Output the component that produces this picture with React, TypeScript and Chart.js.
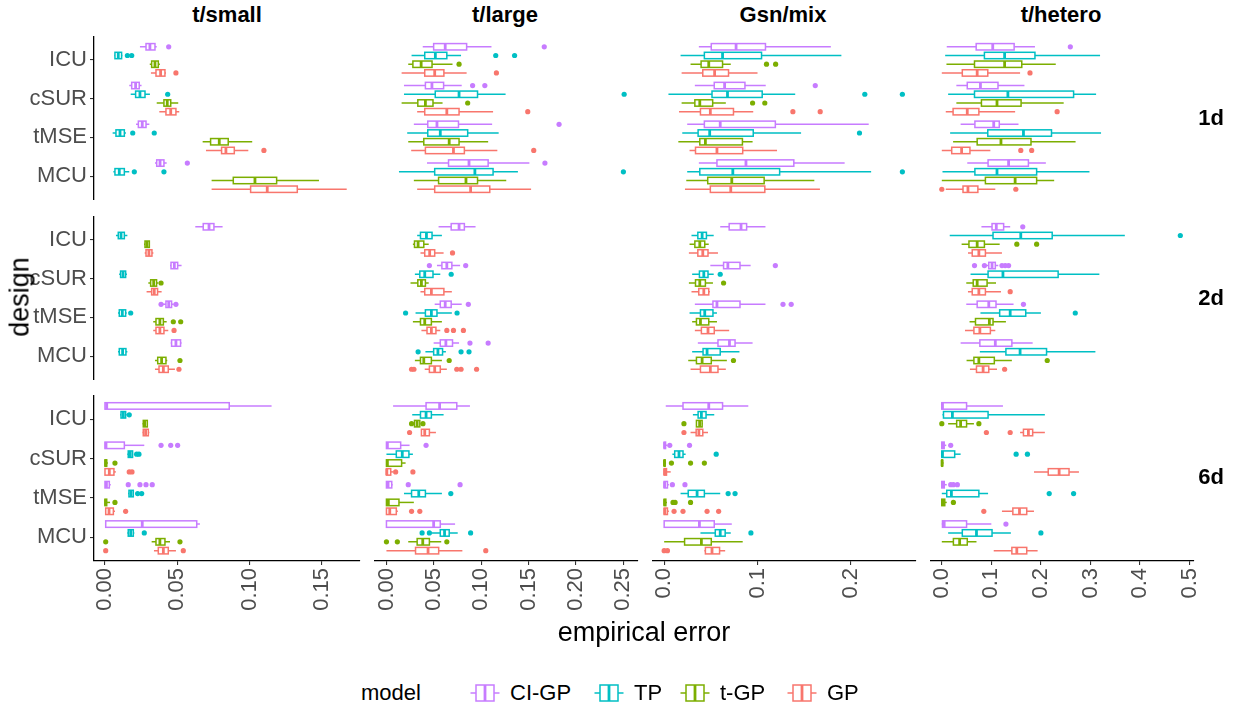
import React, { useEffect, useRef } from "react";
import { Chart, registerables } from "chart.js";

Chart.register(...registerables);

const FONT = "'Liberation Sans', Arial, Helvetica, sans-serif";

// ---- labels ----
const designs = ["ICU", "cSUR", "tMSE", "MCU"];
const models = ["CI-GP", "TP", "t-GP", "GP"];
const modelColors = ["#C77CFF", "#00BFC4", "#7CAE00", "#F8766D"];
const problems = ["t/small", "t/large", "Gsn/mix", "t/hetero"];
const dims = ["1d", "2d", "6d"];

// ---- x axes per column ----
const xLimits = [
  [-0.0076, 0.1765],
  [-0.0125, 0.2654],
  [-0.0124, 0.27],
  [-0.0226, 0.509],
];
const xTickValues = [
  [0, 0.05, 0.1, 0.15],
  [0, 0.05, 0.1, 0.15, 0.2, 0.25],
  [0, 0.1, 0.2],
  [0, 0.1, 0.2, 0.3, 0.4, 0.5],
];
const xTickLabels = [
  ["0.00", "0.05", "0.10", "0.15"],
  ["0.00", "0.05", "0.10", "0.15", "0.20", "0.25"],
  ["0.0", "0.1", "0.2"],
  ["0.0", "0.1", "0.2", "0.3", "0.4", "0.5"],
];

// ---- data: per facet, per design [CI-GP, TP, t-GP, GP]
// each box: [lowerWhisker, q1, median, q3, upperWhisker, ...outliers]
const tSmall1d = [
  [[0.0242, 0.0284, 0.0311, 0.0346, 0.0358, 0.0441], [0.0065, 0.0069, 0.0092, 0.0115, 0.012, 0.0155, 0.0185], [0.031, 0.0323, 0.0346, 0.0369, 0.038], [0.0318, 0.0353, 0.0385, 0.0415, 0.0422, 0.0491]],
  [[0.0168, 0.0185, 0.0212, 0.0237, 0.0253], [0.0178, 0.0212, 0.0242, 0.0277, 0.0311, 0.0434], [0.0358, 0.0408, 0.0431, 0.0455, 0.0507], [0.0376, 0.0422, 0.0455, 0.0491, 0.0514]],
  [[0.0215, 0.0231, 0.0258, 0.0284, 0.0307], [0.0053, 0.0076, 0.0104, 0.0134, 0.0145, 0.0192, 0.0341], [0.0676, 0.0731, 0.0791, 0.0853, 0.1019], [0.0699, 0.0807, 0.0837, 0.0895, 0.0992, 0.11]],
  [[0.0346, 0.0358, 0.0381, 0.0408, 0.0427, 0.057], [0.0058, 0.0069, 0.0099, 0.0134, 0.0168, 0.0203, 0.0408], [0.0738, 0.0888, 0.1038, 0.1188, 0.1481], [0.0738, 0.1008, 0.1123, 0.1331, 0.1673]],
];
const tLarge1d = [
  [[0.0383, 0.0498, 0.062, 0.0846, 0.1108, 0.1665], [0.0265, 0.0404, 0.0516, 0.0637, 0.0787, 0.1153, 0.1352], [0.023, 0.0279, 0.0366, 0.0481, 0.0697, 0.0766], [0.016, 0.0404, 0.0509, 0.0606, 0.0846, 0.116]],
  [[0.0185, 0.0411, 0.048, 0.0603, 0.0794, 0.0909, 0.1038], [0.0185, 0.0515, 0.0766, 0.0961, 0.1257, 0.2508], [0.016, 0.0331, 0.0411, 0.0491, 0.0592, 0.0857], [0.0324, 0.0404, 0.0637, 0.0766, 0.1125, 0.1491]],
  [[0.0289, 0.0436, 0.0533, 0.076, 0.1115, 0.1821], [0.0219, 0.0436, 0.0568, 0.0857, 0.1184], [0.023, 0.0394, 0.0662, 0.0766, 0.1073], [0.0261, 0.0411, 0.0707, 0.0822, 0.117, 0.1554]],
  [[0.0428, 0.0655, 0.0871, 0.1073, 0.1508, 0.1672], [0.0132, 0.0509, 0.0933, 0.1125, 0.1387, 0.25], [0.0289, 0.055, 0.0839, 0.0961, 0.1264], [0.0324, 0.0509, 0.0888, 0.109, 0.1526]],
];
const gsnMix1d = [
  [[0.0372, 0.0505, 0.0771, 0.1086, 0.1787], [0.0176, 0.0431, 0.0626, 0.1044, 0.19], [0.0283, 0.0396, 0.0478, 0.0626, 0.0714, 0.1097, 0.1195], [0.0187, 0.0414, 0.0541, 0.069, 0.1001]],
  [[0.0329, 0.0537, 0.0648, 0.0866, 0.1089, 0.162], [0.0046, 0.0513, 0.0679, 0.1051, 0.1405, 0.2151, 0.2554], [0.0187, 0.0329, 0.0382, 0.052, 0.0661, 0.0948, 0.1079], [0.0159, 0.0389, 0.0495, 0.0743, 0.0955, 0.138, 0.1673]],
  [[0.0247, 0.0431, 0.0601, 0.1192, 0.2193], [0.0194, 0.0364, 0.0488, 0.0955, 0.1468, 0.2094], [0.0152, 0.0382, 0.0442, 0.0839, 0.0948], [0.0272, 0.0336, 0.0566, 0.0842, 0.121]],
  [[0.0372, 0.0566, 0.0877, 0.139, 0.1935], [0.0247, 0.0382, 0.0736, 0.1238, 0.2219, 0.2554], [0.0237, 0.0467, 0.0725, 0.1072, 0.161], [0.0223, 0.0495, 0.0714, 0.1079, 0.167]],
];
const tHetero1d = [
  [[0.01, 0.0694, 0.1028, 0.146, 0.188, 0.2594], [0.0068, 0.086, 0.1268, 0.188, 0.3194], [0.0094, 0.066, 0.1268, 0.1614, 0.23], [0, 0.0414, 0.0714, 0.0928, 0.158, 0.178]],
  [[0.0294, 0.0514, 0.078, 0.1134, 0.1668], [0.0128, 0.066, 0.1334, 0.266, 0.3114], [0.0294, 0.08, 0.1114, 0.16, 0.246], [0.008, 0.0228, 0.0514, 0.0748, 0.148, 0.2328]],
  [[0.038, 0.0668, 0.1048, 0.116, 0.1548], [0.0168, 0.0928, 0.1648, 0.2214, 0.3214], [0.0228, 0.0714, 0.1194, 0.18, 0.27], [0, 0.02, 0.04, 0.0568, 0.098, 0.1594, 0.1814]],
  [[0.0514, 0.0934, 0.1348, 0.1748, 0.21], [0.0014, 0.0668, 0.1114, 0.1914, 0.298], [0, 0.088, 0.148, 0.1914, 0.2268], [0.008, 0.0428, 0.0528, 0.0728, 0.108, 0, 0.1494]],
];
const tSmall2d = [
  [[0.0625, 0.068, 0.072, 0.0754, 0.0814], [0.0076, 0.0092, 0.0111, 0.0134, 0.0155], [0.027, 0.0277, 0.0291, 0.0307, 0.031], [0.0275, 0.0284, 0.0304, 0.0325, 0.0335]],
  [[0.045, 0.0457, 0.048, 0.0503, 0.053], [0.0098, 0.0108, 0.0125, 0.0143, 0.0152], [0.03, 0.0316, 0.0337, 0.0357, 0.0369, 0.0388], [0.0288, 0.0323, 0.0341, 0.0364, 0.0392]],
  [[0.04, 0.0422, 0.0441, 0.0461, 0.0475, 0.0388, 0.0491], [0.009, 0.0099, 0.012, 0.0143, 0.015, 0.0178], [0.0334, 0.0353, 0.038, 0.0404, 0.0427, 0.0473, 0.0524], [0.0334, 0.0353, 0.038, 0.0408, 0.0438, 0.0478]],
  [[0.0455, 0.0461, 0.0491, 0.0523, 0.053], [0.009, 0.0099, 0.0122, 0.0145, 0.0155], [0.0346, 0.0365, 0.0392, 0.0422, 0.0431, 0.0519], [0.0346, 0.0374, 0.0404, 0.0438, 0.0484, 0.0512]],
];
const tLarge2d = [
  [[0.055, 0.0683, 0.0766, 0.0822, 0.094], [0.0324, 0.0359, 0.0422, 0.0481, 0.0585], [0.0279, 0.0296, 0.0334, 0.0394, 0.0446], [0.0359, 0.0404, 0.0456, 0.0509, 0.0603, 0.0697]],
  [[0.0533, 0.0585, 0.0637, 0.069, 0.0777, 0.0453, 0.0836], [0.03, 0.0352, 0.0404, 0.0491, 0.0568, 0.0683], [0.0254, 0.0331, 0.0369, 0.0411, 0.0446], [0.0359, 0.0404, 0.0474, 0.0606, 0.069]],
  [[0.0509, 0.0568, 0.062, 0.0683, 0.0794, 0.0864], [0.0307, 0.0411, 0.0474, 0.0533, 0.069, 0.0202, 0.0745], [0.0279, 0.0359, 0.0404, 0.0474, 0.0585], [0.0369, 0.0428, 0.0474, 0.0522, 0.0568, 0.0637, 0.0707, 0.0812]],
  [[0.0498, 0.0568, 0.0627, 0.0697, 0.0766, 0.0881, 0.1073], [0.0411, 0.0498, 0.0543, 0.0592, 0.0627, 0.0334, 0.0787, 0.0871], [0.03, 0.0359, 0.0394, 0.0474, 0.0585, 0.0662], [0.0404, 0.0453, 0.0509, 0.0568, 0.0637, 0.0265, 0.029, 0.0742, 0.0787, 0.0951]],
];
const gsnMix2d = [
  [[0.0601, 0.0697, 0.0824, 0.0884, 0.1086], [0.0293, 0.0361, 0.0407, 0.0453, 0.0531], [0.0272, 0.0329, 0.0382, 0.0435, 0.0478], [0.0265, 0.0361, 0.0414, 0.047, 0.0577]],
  [[0.0495, 0.0637, 0.0683, 0.0813, 0.0927, 0.1192], [0.03, 0.0378, 0.0425, 0.047, 0.0531, 0.0601], [0.0265, 0.0336, 0.0382, 0.0442, 0.0523, 0.0637], [0.0293, 0.0371, 0.0425, 0.0478, 0.049]],
  [[0.0329, 0.0523, 0.0566, 0.0813, 0.1086, 0.1274, 0.1362], [0.0272, 0.0389, 0.0435, 0.0523, 0.0566], [0.03, 0.0346, 0.0389, 0.0478, 0.0566], [0.0329, 0.0399, 0.047, 0.0537, 0.0697]],
  [[0.0361, 0.0577, 0.07, 0.076, 0.0948], [0.03, 0.0417, 0.046, 0.0601, 0.0807], [0.0258, 0.0346, 0.0407, 0.0505, 0.0672, 0.0743], [0.0283, 0.0389, 0.0495, 0.0577, 0.0661]],
];
const tHetero2d = [
  [[0.08, 0.1014, 0.11, 0.1248, 0.138, 0.1634], [0.016, 0.1034, 0.1594, 0.2228, 0.3694, 0.4814], [0.04, 0.0548, 0.0714, 0.086, 0.1168, 0.1514, 0.1914], [0.0528, 0.0614, 0.0748, 0.088, 0.1214]],
  [[0.088, 0.0948, 0.1014, 0.108, 0.114, 0.066, 0.086, 0.1214, 0.128, 0.1348], [0.058, 0.0934, 0.1234, 0.2348, 0.318], [0.0494, 0.0634, 0.0714, 0.0914, 0.1094], [0.0528, 0.0614, 0.0748, 0.088, 0.1194, 0.138]],
  [[0.0494, 0.0714, 0.0948, 0.1094, 0.1448, 0.1648], [0.078, 0.1168, 0.138, 0.1694, 0.2, 0.2694], [0.056, 0.068, 0.096, 0.1034, 0.1294], [0.0468, 0.0648, 0.0768, 0.098, 0.108]],
  [[0.038, 0.0768, 0.108, 0.1414, 0.1834], [0.0768, 0.1294, 0.158, 0.2114, 0.31], [0.05, 0.0648, 0.0748, 0.106, 0.1414, 0.2128], [0.0568, 0.07, 0.0834, 0.0948, 0.1114, 0.1268]],
];
const tSmall6d = [
  [[0, 0, 0.0012, 0.086, 0.1153], [0.0105, 0.0111, 0.0127, 0.0143, 0.015, 0.0168], [0.026, 0.0265, 0.0275, 0.0293, 0.0295], [0.026, 0.0265, 0.0281, 0.03, 0.0307]],
  [[0, 0, 0.0007, 0.0134, 0.0272, 0.0388, 0.0455, 0.0503], [0.0155, 0.0161, 0.0175, 0.0191, 0.0195, 0.0219, 0.0235], [0, 0, 0.0005, 0.0012, 0.002, 0.0069], [0, 0, 0.003, 0.0062, 0.0075, 0.0168, 0.0187]],
  [[0, 0, 0.001, 0.003, 0.004, 0.0161, 0.0242, 0.0284, 0.0327], [0.016, 0.0166, 0.018, 0.0196, 0.02, 0.0226, 0.0254], [0, 0, 0.0004, 0.0012, 0.0035, 0.0069], [0, 0.0005, 0.0028, 0.0058, 0.0069, 0.0143]],
  [[0, 0.0005, 0.0258, 0.0635, 0.0657], [0.0155, 0.0161, 0.0178, 0.0196, 0.0203, 0.0272], [0.0323, 0.0353, 0.038, 0.0415, 0.045, 0.0005, 0.0519], [0.0339, 0.0369, 0.0404, 0.0438, 0.0491, 0.0005, 0.0542]],
];
const tLarge6d = [
  [[0.007, 0.0418, 0.0561, 0.0742, 0.0881], [0.0272, 0.0359, 0.0418, 0.0474, 0.0603], [0.029, 0.0296, 0.0324, 0.0352, 0.0359, 0.0265, 0.0385], [0.0369, 0.0369, 0.0404, 0.0453, 0.0522, 0.0244]],
  [[0, 0, 0.001, 0.015, 0.0244, 0.0418], [0, 0.0104, 0.0167, 0.0237, 0.0279], [0, 0, 0.001, 0.016, 0.0202], [0, 0, 0.0004, 0.0045, 0.007, 0.0097, 0.0279]],
  [[0, 0, 0.0017, 0.0056, 0.0065, 0.023, 0.0777], [0.0185, 0.0265, 0.0341, 0.0411, 0.0585, 0.0679], [0, 0, 0.002, 0.0132, 0.0289], [0, 0, 0.0035, 0.0104, 0.012, 0.0265, 0.0352]],
  [[0, 0, 0.0498, 0.0568, 0.0724], [0.0474, 0.0568, 0.0613, 0.0662, 0.0752, 0.0376, 0.0453, 0.0888], [0.023, 0.0324, 0.0383, 0.0453, 0.0578, 0, 0.0115, 0.0637], [0, 0.0307, 0.0439, 0.0551, 0.0801, 0.1048]],
];
const gsnMix6d = [
  [[0.0017, 0.0202, 0.0478, 0.0626, 0.0902], [0.0308, 0.0364, 0.0399, 0.0449, 0.0537], [0.0346, 0.0346, 0.038, 0.0407, 0.0414, 0.0212], [0.0283, 0.0343, 0.0372, 0.0414, 0.047, 0.0212]],
  [[0, 0, 0.0005, 0.0015, 0.003, 0.006, 0.0272], [0.0088, 0.0113, 0.0159, 0.0202, 0.023, 0.0558], [0, 0, 0.0003, 0.001, 0.002, 0.0078, 0.0283, 0.0431], [0, 0, 0.0005, 0.0025, 0.007]],
  [[0, 0, 0.0005, 0.0035, 0.005, 0.0088, 0.0223], [0.0176, 0.0258, 0.0353, 0.0431, 0.0601, 0.0686, 0.076], [0, 0, 0.0005, 0.0018, 0.003, 0.0095, 0.0117, 0.0283], [0, 0, 0.0007, 0.0035, 0.005, 0.0106, 0.0202, 0.046, 0.0584]],
  [[0, 0, 0.0378, 0.0537, 0.0725], [0.0389, 0.0548, 0.0601, 0.0654, 0.0714, 0.093], [0, 0.0219, 0.0399, 0.0505, 0.0842], [0.0431, 0.0442, 0.0513, 0.0594, 0.0654, 0, 0.0035]],
];
const tHetero6d = [
  [[0, 0, 0.0014, 0.05, 0.1234], [0.0014, 0.0034, 0.0214, 0.0934, 0.208], [0.0128, 0.03, 0.038, 0.05, 0.0648, 0, 0.0748], [0.158, 0.1648, 0.1748, 0.1834, 0.208, 0.09, 0.138]],
  [[0, 0, 0.002, 0.0048, 0.009, 0.018], [0, 0, 0.0014, 0.026, 0.038, 0.15, 0.1728], [0, 0, 0.0005, 0.0015, 0.0035], [0.186, 0.2148, 0.2368, 0.2568, 0.2768]],
  [[0, 0, 0.002, 0.005, 0.01, 0.018, 0.0234, 0.0314], [0, 0.01, 0.0194, 0.0748, 0.0934, 0.2168, 0.266], [0, 0, 0.002, 0.006, 0.01, 0.0234], [0.1214, 0.1434, 0.1568, 0.1714, 0.186, 0.0848]],
  [[0, 0.0014, 0.0048, 0.05, 0.1, 0.1294], [0.0128, 0.0414, 0.07, 0.1014, 0.1394, 0.2], [0, 0.0234, 0.036, 0.0514, 0.07], [0.1048, 0.1414, 0.1514, 0.1714, 0.1934]],
];

const facets = [
  [tSmall1d, tLarge1d, gsnMix1d, tHetero1d],
  [tSmall2d, tLarge2d, gsnMix2d, tHetero2d],
  [tSmall6d, tLarge6d, gsnMix6d, tHetero6d],
];

// ---- layout (pixels) ----
const PANEL_LEFT = [94, 372, 650, 928];
const PANEL_TOP = [34, 214, 393];
const PANEL_W = 266;
const PANEL_H = 168;
const Y_AXIS_W = 94;
const X_AXIS_H = 60;
const PAD_R = 16;
const DODGE = [-0.3375, -0.1125, 0.1125, 0.3375];
const BOX_H = 0.165;
const TICK_SIZE = 22;

function Panel({ r, c }: { r: number; c: number }) {
  const ref = useRef<HTMLCanvasElement>(null);
  const showY = c === 0;
  const showX = r === 2;
  const width = PANEL_W + (showY ? Y_AXIS_W : 0) + PAD_R;
  const height = PANEL_H + (showX ? X_AXIS_H : 0);
  const left = PANEL_LEFT[c] - (showY ? Y_AXIS_W : 0);

  useEffect(() => {
    const facet = facets[r][c];
    const boxPlugin = {
      id: "boxes" + r + c,
      beforeDatasetsDraw(chart: any) {
        const xs = chart.scales.x;
        const ys = chart.scales.y;
        const ctx = chart.ctx as CanvasRenderingContext2D;
        const half = Math.abs(ys.getPixelForValue(1 + BOX_H / 2) - ys.getPixelForValue(1));
        ctx.save();
        facet.forEach((group: number[][], di: number) => {
          group.forEach((b: number[], mi: number) => {
            const yc = ys.getPixelForValue(di + 1 + DODGE[mi]);
            const px = (v: number) => xs.getPixelForValue(v);
            const [lo, q1, med, q3, hi] = b;
            ctx.strokeStyle = modelColors[mi];
            ctx.lineWidth = 1.5;
            ctx.beginPath();
            ctx.moveTo(px(lo), yc);
            ctx.lineTo(px(q1), yc);
            ctx.moveTo(px(q3), yc);
            ctx.lineTo(px(hi), yc);
            ctx.stroke();
            const x1 = px(q1);
            const x2 = px(q3);
            ctx.fillStyle = "#FFFFFF";
            ctx.fillRect(x1, yc - half, x2 - x1, 2 * half);
            ctx.strokeRect(x1, yc - half, x2 - x1, 2 * half);
            ctx.lineWidth = 2.8;
            ctx.beginPath();
            ctx.moveTo(px(med), yc - half);
            ctx.lineTo(px(med), yc + half);
            ctx.stroke();
          });
        });
        ctx.restore();
      },
    };

    const datasets = models.map((m, mi) => {
      const pts: { x: number; y: number }[] = [];
      facet.forEach((group: number[][], di: number) => {
        group[mi].slice(5).forEach((v) => pts.push({ x: v, y: di + 1 + DODGE[mi] }));
      });
      return {
        label: m,
        data: pts,
        backgroundColor: modelColors[mi],
        borderColor: modelColors[mi],
        borderWidth: 0,
        pointRadius: 2.6,
        pointHoverRadius: 2.6,
      };
    });

    const chart = new Chart(ref.current as HTMLCanvasElement, {
      type: "scatter",
      data: { datasets },
      options: {
        animation: false,
        responsive: false,
        devicePixelRatio: 1,
        events: [],
        layout: { padding: { left: 0, top: 0, bottom: 0, right: PAD_R } },
        plugins: { legend: { display: false }, tooltip: { enabled: false } },
        scales: {
          x: {
            type: "linear",
            display: showX,
            min: xLimits[c][0],
            max: xLimits[c][1],
            afterBuildTicks: (s: any) => {
              s.ticks = xTickValues[c].map((v) => ({ value: v }));
            },
            afterFit: (s: any) => {
              s.height = showX ? X_AXIS_H : 0;
              s.paddingLeft = 0;
              s.paddingRight = 0;
            },
            grid: { display: true, drawOnChartArea: false, drawTicks: true, tickLength: 4, color: "#333333", lineWidth: 1.1 },
            border: { display: true, color: "#000000", width: 1.3 },
            ticks: {
              autoSkip: false,
              maxRotation: 90,
              minRotation: 90,
              padding: 3,
              color: "#4D4D4D",
              font: { family: FONT, size: TICK_SIZE },
              callback: (_v: any, i: number) => xTickLabels[c][i],
            },
          },
          y: {
            type: "linear",
            display: showY,
            reverse: true,
            min: 0.4,
            max: 4.6,
            afterBuildTicks: (s: any) => {
              s.ticks = designs.map((_, i) => ({ value: i + 1 }));
            },
            afterFit: (s: any) => {
              s.width = showY ? Y_AXIS_W : 0;
              s.paddingTop = 0;
              s.paddingBottom = 0;
            },
            grid: { display: true, drawOnChartArea: false, drawTicks: true, tickLength: 4, color: "#333333", lineWidth: 1.1 },
            border: { display: true, color: "#000000", width: 1.3 },
            ticks: {
              autoSkip: false,
              padding: 3,
              color: "#4D4D4D",
              font: { family: FONT, size: TICK_SIZE },
              callback: (_v: any, i: number) => designs[i],
            },
          },
        },
      } as any,
      plugins: [boxPlugin],
    });
    return () => chart.destroy();
  }, [r, c]);

  return (
    <canvas
      ref={ref}
      width={width}
      height={height}
      style={{ position: "absolute", left, top: PANEL_TOP[r], width, height }}
    />
  );
}

function LegendKey({ color }: { color: string }) {
  return (
    <svg width={36} height={24} style={{ display: "block" }}>
      <line x1={3.5} y1={12} x2={9} y2={12} stroke={color} strokeWidth={1.5} />
      <line x1={27} y1={12} x2={32.5} y2={12} stroke={color} strokeWidth={1.5} />
      <rect x={9} y={4} width={18} height={16} fill="#fff" stroke={color} strokeWidth={1.5} />
      <line x1={18} y1={4} x2={18} y2={20} stroke={color} strokeWidth={2.8} />
    </svg>
  );
}

const LEGEND_KEY_X = [467, 591, 677, 784];
const LEGEND_TEXT_X = [510, 634, 720, 827];

export default function App() {
  const text: React.CSSProperties = { position: "absolute", fontFamily: FONT, color: "#000", whiteSpace: "nowrap" };
  return (
    <div style={{ position: "absolute", left: 0, top: 0, width: 1237, height: 715, background: "#fff", overflow: "hidden" }}>
      {[0, 1, 2].map((r) => [0, 1, 2, 3].map((c) => <Panel key={`${r}-${c}`} r={r} c={c} />))}
      {problems.map((p, c) => (
        <div key={p} style={{ ...text, left: PANEL_LEFT[c], width: PANEL_W, top: 1, height: 28, lineHeight: "28px", textAlign: "center", fontWeight: "bold", fontSize: 22 }}>
          {p}
        </div>
      ))}
      {dims.map((d, r) => (
        <div key={d} style={{ ...text, left: 1196, width: 30, top: PANEL_TOP[r], height: PANEL_H, lineHeight: `${PANEL_H}px`, textAlign: "center", fontWeight: "bold", fontSize: 22 }}>
          {d}
        </div>
      ))}
      <div style={{ ...text, left: 20, top: 297, fontSize: 27, transform: "translate(-50%, -50%) rotate(-90deg)" }}>design</div>
      <div style={{ ...text, left: 644, top: 632, fontSize: 27, transform: "translate(-50%, -50%)" }}>empirical error</div>
      <div style={{ ...text, left: 361, top: 680, height: 26, lineHeight: "26px", fontSize: 22 }}>model</div>
      {models.map((m, i) => (
        <React.Fragment key={m}>
          <div style={{ position: "absolute", left: LEGEND_KEY_X[i], top: 681 }}>
            <LegendKey color={modelColors[i]} />
          </div>
          <div style={{ ...text, left: LEGEND_TEXT_X[i], top: 680, height: 26, lineHeight: "26px", fontSize: 22 }}>{m}</div>
        </React.Fragment>
      ))}
    </div>
  );
}
